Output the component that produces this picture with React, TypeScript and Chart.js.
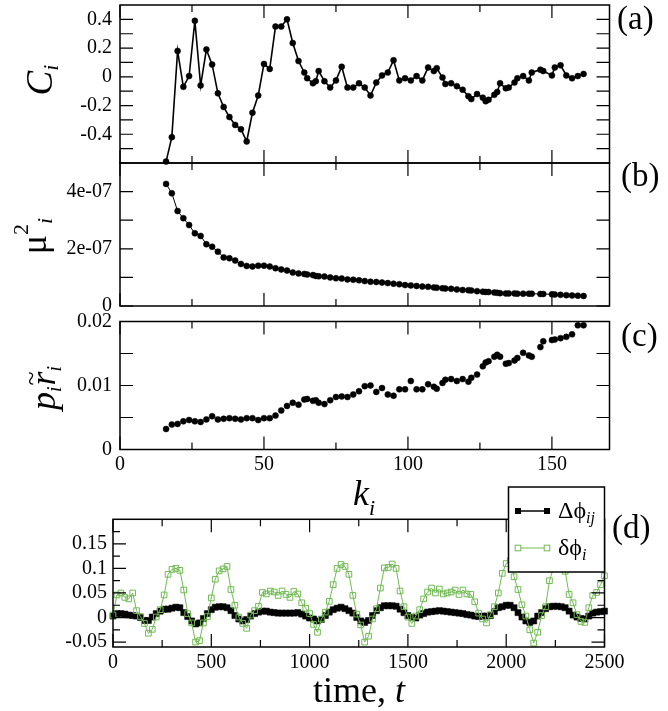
import React, { useEffect, useRef } from 'react';
import { Chart, registerables } from 'chart.js';

Chart.register(...registerables);

const SERIF = '"Liberation Serif", "Times New Roman", Times, serif';
const GREEN = 'rgb(112, 186, 82)';

// panels (a)-(c): node degree k_i
const degree = [
  16, 18, 20, 22, 24, 26, 28, 30, 32, 34, 36, 38, 40, 42, 44, 46, 48, 50, 52, 54,
  56, 58, 60, 62, 64, 65, 67, 68, 69, 71, 73, 75, 77, 79, 81, 83, 85, 87, 89, 91,
  93, 95, 97, 99, 101, 103, 105, 107, 109, 110, 112, 113, 115, 117, 119, 121, 122, 124, 126, 127,
  128, 130, 131, 132, 134, 135, 137, 138, 140, 142, 143, 146, 147, 150, 151, 153, 155, 157, 159, 161
];

const clustering = [
  -0.59, -0.42, 0.18, -0.07, 0.005, 0.39, -0.06, 0.19, 0.085, -0.115, -0.21, -0.28, -0.335, -0.365, -0.45, -0.25, -0.13, 0.09, 0.055, 0.35,
  0.35, 0.4, 0.235, 0.11, 0.03, -0.01, -0.045, -0.03, 0.04, -0.03, -0.075, -0.025, 0.07, -0.075, -0.075, -0.045, -0.075, -0.13, -0.04, 0.01,
  0.03, 0.115, -0.025, -0.01, -0.025, 0.005, -0.025, 0.065, 0.04, 0.06, -0.005, -0.05, -0.045, -0.065, -0.09, -0.135, -0.155, -0.12, -0.145, -0.17,
  -0.16, -0.125, -0.105, -0.045, -0.08, -0.075, -0.04, -0.01, 0.005, -0.025, 0.03, 0.05, 0.04, 0.01, 0.065, 0.08, 0.01, -0.01, 0.005, 0.02
];

const muSquared = [
  4.27e-7, 3.94e-7, 3.32e-7, 3.07e-7, 2.83e-7, 2.54e-7, 2.45e-7, 2.16e-7, 2.07e-7, 1.9e-7, 1.7e-7, 1.67e-7, 1.59e-7, 1.47e-7, 1.4e-7, 1.38e-7, 1.41e-7, 1.41e-7, 1.38e-7, 1.32e-7,
  1.28e-7, 1.24e-7, 1.17e-7, 1.14e-7, 1.12e-7, 1.1e-7, 1.08e-7, 1.05e-7, 1.04e-7, 1.03e-7, 1.0e-7, 0.97e-7, 0.96e-7, 0.93e-7, 0.92e-7, 0.9e-7, 0.87e-7, 0.85e-7, 0.84e-7, 0.82e-7,
  0.8e-7, 0.78e-7, 0.76e-7, 0.73e-7, 0.72e-7, 0.7e-7, 0.68e-7, 0.67e-7, 0.65e-7, 0.64e-7, 0.62e-7, 0.61e-7, 0.6e-7, 0.58e-7, 0.56e-7, 0.55e-7, 0.54e-7, 0.52e-7, 0.5e-7, 0.49e-7,
  0.49e-7, 0.47e-7, 0.46e-7, 0.45e-7, 0.44e-7, 0.44e-7, 0.44e-7, 0.43e-7, 0.43e-7, 0.43e-7, 0.43e-7, 0.42e-7, 0.42e-7, 0.41e-7, 0.4e-7, 0.39e-7, 0.38e-7, 0.37e-7, 0.36e-7, 0.35e-7
];

const prTilde = [
  0.0032, 0.0039, 0.004, 0.0044, 0.0046, 0.0044, 0.0043, 0.0047, 0.0052, 0.0047, 0.0048, 0.0049, 0.0048, 0.0047, 0.0049, 0.0049, 0.0046, 0.0049, 0.0049, 0.0053,
  0.0061, 0.0068, 0.0073, 0.007, 0.0078, 0.0079, 0.0076, 0.0077, 0.0073, 0.0071, 0.0077, 0.0082, 0.0083, 0.0082, 0.0086, 0.0091, 0.0099, 0.01, 0.009, 0.0096,
  0.0086, 0.0084, 0.0094, 0.0094, 0.0107, 0.0094, 0.0094, 0.0102, 0.0098, 0.0095, 0.0104, 0.0109, 0.011, 0.0107, 0.011, 0.0106, 0.0112, 0.0117, 0.013, 0.0136,
  0.0138, 0.0145, 0.0148, 0.0145, 0.0134, 0.0135, 0.0139, 0.0143, 0.0151, 0.0147, 0.0145, 0.016, 0.0169, 0.0171, 0.0172, 0.0174, 0.0176, 0.018, 0.0194, 0.0194
];

// panel (d): time series
const time = [
  0, 20, 40, 60, 80, 100, 120, 140, 160, 180,
  200, 220, 240, 260, 280, 300, 320, 340, 360, 380,
  400, 420, 440, 460, 480, 500, 520, 540, 560, 580,
  600, 620, 640, 660, 680, 700, 720, 740, 760, 780,
  800, 820, 840, 860, 880, 900, 920, 940, 960, 980,
  1000, 1020, 1040, 1060, 1080, 1100, 1120, 1140, 1160, 1180,
  1200, 1220, 1240, 1260, 1280, 1300, 1320, 1340, 1360, 1380,
  1400, 1420, 1440, 1460, 1480, 1500, 1520, 1540, 1560, 1580,
  1600, 1620, 1640, 1660, 1680, 1700, 1720, 1740, 1760, 1780,
  1800, 1820, 1840, 1860, 1880, 1900, 1920, 1940, 1960, 1980,
  2000, 2020, 2040, 2060, 2080, 2100, 2120, 2140, 2160, 2180,
  2200, 2220, 2240, 2260, 2280, 2300, 2320, 2340, 2360, 2380,
  2400, 2420, 2440, 2460, 2480, 2500
];

const deltaPhiIJ = [
  0.003, 0.008, 0.008, 0.007, 0.005, 0.004, 0.003, 0.0, -0.006, -0.006,
  0.001, 0.008, 0.013, 0.017, 0.017, 0.019, 0.021, 0.02, 0.01, 0.002,
  -0.007, -0.013, -0.011, -0.002, 0.008, 0.016, 0.021, 0.022, 0.022, 0.02,
  0.014, 0.004, -0.003, -0.007, -0.004, 0.003, 0.008, 0.011, 0.013, 0.013,
  0.011, 0.01, 0.009, 0.009, 0.009, 0.009, 0.009, 0.01, 0.007, 0.003,
  -0.001, -0.003, -0.007, -0.004, 0.004, 0.011, 0.016, 0.019, 0.021, 0.018,
  0.014, 0.009, 0.0, -0.007, -0.01, -0.006, 0.004, 0.014, 0.02, 0.024,
  0.024, 0.024, 0.023, 0.017, 0.01, 0.004, 0.0, -0.001, 0.005, 0.008,
  0.011, 0.012, 0.013, 0.014, 0.013, 0.012, 0.011, 0.01, 0.009, 0.008,
  0.006, 0.005, 0.003, 0.002, 0.003, 0.003, 0.004, 0.012, 0.02, 0.022,
  0.025, 0.025, 0.02, 0.01, 0.001, -0.007, -0.01, -0.007, 0.003, 0.01,
  0.018, 0.022, 0.023, 0.023, 0.022, 0.02, 0.013, 0.005, 0.001, -0.002,
  -0.003, 0.003, 0.009, 0.011, 0.012, 0.013
];

const deltaPhiI = [
  0.005, 0.046, 0.05, 0.041, 0.038, 0.05, 0.014, 0.002, -0.012, -0.032,
  -0.024, 0.001, 0.016, 0.046, 0.088, 0.098, 0.1, 0.096, 0.056, 0.008,
  -0.011, -0.05, -0.047, -0.011, 0.002, 0.04, 0.078, 0.095, 0.099, 0.104,
  0.057, 0.025, 0.001, -0.012, -0.022, 0.005, 0.014, 0.023, 0.051, 0.048,
  0.054, 0.052, 0.045, 0.054, 0.047, 0.041, 0.053, 0.048, 0.03, 0.019,
  0.008, -0.014, -0.03, -0.003, 0.011, 0.033, 0.067, 0.1, 0.108, 0.104,
  0.088, 0.045, 0.007, -0.015, -0.05, -0.038, -0.003, 0.018, 0.06, 0.101,
  0.102, 0.109, 0.1, 0.054, 0.022, 0.001, -0.012, 0.003, 0.016, 0.038,
  0.052, 0.06, 0.05, 0.058, 0.048, 0.05, 0.052, 0.056, 0.047, 0.056,
  0.048, 0.047, 0.032, 0.009, -0.003, -0.011, 0.006, 0.022, 0.05, 0.09,
  0.11, 0.116, 0.083, 0.057, 0.026, 0.003, -0.025, -0.052, -0.03, 0.004,
  0.022, 0.075, 0.1, 0.112, 0.108, 0.094, 0.047, 0.03, 0.006, -0.008,
  -0.01, 0.02, 0.045, 0.051, 0.067, 0.085
];

// tick values and labels
const degreeTicks = [0, 50, 100, 150];
const degreeTickLabels = ['0', '50', '100', '150'];
const degreeMinor = [25, 75, 125];
const clusterTicks = [-0.4, -0.2, 0, 0.2, 0.4];
const clusterTickLabels = ['-0.4', '-0.2', '0', '0.2', '0.4'];
const clusterMinor = [-0.5, -0.3, -0.1, 0.1, 0.3];
const muTicks = [0, 2e-7, 4e-7];
const muTickLabels = ['0', '2e-07', '4e-07'];
const muMinor = [1e-7, 3e-7];
const prTicks = [0, 0.01, 0.02];
const prTickLabels = ['0', '0.01', '0.02'];
const prMinor = [0.005, 0.015];
const timeTicks = [0, 500, 1000, 1500, 2000, 2500];
const timeTickLabels = ['0', '500', '1000', '1500', '2000', '2500'];
const timeMinor = [250, 750, 1250, 1750, 2250];
const phaseTicks = [-0.05, 0, 0.05, 0.1, 0.15];
const phaseTickLabels = ['-0.05', '0', '0.05', '0.1', '0.15'];
const phaseMinor = [-0.025, 0.025, 0.075, 0.125, 0.175];

type Seg = { t: string; size: number; italic?: boolean; dy?: number; dx?: number; over?: boolean };

const seriesNames: Seg[][] = [
  [{ t: 'Δϕ', size: 24 }, { t: 'ij', size: 16, italic: true, dy: 5 }],
  [{ t: 'δϕ', size: 24 }, { t: 'i', size: 16, italic: true, dy: 5 }]
];

interface PanelSpec {
  id: string;
  top: number;
  height: number;
  padding: { left: number; right: number; top: number; bottom: number };
  yWidth: number;
  yPad: number;
  yMin: number;
  yMax: number;
  yTicks: number[];
  yLabels: string[];
  yMinor: number[];
  yMinorLen: number;
  xMin: number;
  xMax: number;
  xTicks: number[];
  xLabels: string[];
  xMinor: number[];
  xShow: boolean;
  xHeight?: number;
  xPad?: number;
  datasets: any[];
  tag: { text: string; x: number; y: number };
  yTitle: { segs: Seg[]; x: number; y: number };
  xTitle?: { segs: Seg[]; x: number; y: number };
  legend?: boolean;
}

const segFont = (s: Seg) => `${s.italic ? 'italic ' : ''}${s.size}px ${SERIF}`;

function drawRich(ctx: CanvasRenderingContext2D, segs: Seg[], x: number, y: number, center: boolean) {
  let total = 0;
  segs.forEach((s) => {
    if (s.over) return;
    ctx.font = segFont(s);
    total += ctx.measureText(s.t).width + (s.dx || 0);
  });
  let cx = center ? x - total / 2 : x;
  let prevX = cx;
  let prevW = 0;
  ctx.textAlign = 'left';
  ctx.textBaseline = 'alphabetic';
  for (const s of segs) {
    ctx.font = segFont(s);
    const w = ctx.measureText(s.t).width;
    if (s.over) {
      ctx.fillText(s.t, prevX + (prevW - w) / 2, y + (s.dy || 0));
      continue;
    }
    cx += s.dx || 0;
    ctx.fillText(s.t, cx, y + (s.dy || 0));
    prevX = cx;
    prevW = w;
    cx += w;
  }
}

function makeFrame(spec: PanelSpec) {
  return {
    id: 'frame_' + spec.id,
    afterDraw(chart: any) {
      const ctx: CanvasRenderingContext2D = chart.ctx;
      const { left, right, top, bottom } = chart.chartArea;
      const xs = chart.scales.x;
      const ys = chart.scales.y;
      const off = spec.top;
      ctx.save();
      ctx.strokeStyle = '#000';
      ctx.fillStyle = '#000';

      // inward ticks on all four sides
      ctx.lineWidth = 1.2;
      ctx.beginPath();
      const xTick = (vals: number[], len: number) => vals.forEach((v) => {
        const p = xs.getPixelForValue(v);
        ctx.moveTo(p, bottom); ctx.lineTo(p, bottom - len);
        ctx.moveTo(p, top); ctx.lineTo(p, top + len);
      });
      const yTick = (vals: number[], len: number) => vals.forEach((v) => {
        const p = ys.getPixelForValue(v);
        ctx.moveTo(left, p); ctx.lineTo(left + len, p);
        ctx.moveTo(right, p); ctx.lineTo(right - len, p);
      });
      xTick(spec.xTicks, 13);
      xTick(spec.xMinor, 7);
      yTick(spec.yTicks, 13);
      yTick(spec.yMinor, spec.yMinorLen);
      ctx.stroke();

      ctx.lineWidth = 1.5;
      ctx.strokeRect(left, top, right - left, bottom - top);

      // panel tag
      ctx.font = `33px ${SERIF}`;
      ctx.textAlign = 'left';
      ctx.textBaseline = 'alphabetic';
      ctx.fillText(spec.tag.text, spec.tag.x, spec.tag.y - off);

      // rotated y title
      ctx.save();
      ctx.translate(spec.yTitle.x, spec.yTitle.y - off);
      ctx.rotate(-Math.PI / 2);
      drawRich(ctx, spec.yTitle.segs, 0, 0, true);
      ctx.restore();

      if (spec.xTitle) {
        drawRich(ctx, spec.xTitle.segs, spec.xTitle.x, spec.xTitle.y - off, true);
      }

      if (spec.legend) {
        const bx = 508.5;
        const by = 487 - off;
        ctx.fillStyle = '#fff';
        ctx.fillRect(bx, by, 96, 85);
        ctx.strokeStyle = '#000';
        ctx.lineWidth = 1.5;
        ctx.strokeRect(bx, by, 96, 85);
        const rows = [511, 548];
        const colors = ['#000', GREEN];
        seriesNames.forEach((segs, i) => {
          const ly = rows[i] - off;
          ctx.strokeStyle = colors[i];
          ctx.lineWidth = i === 0 ? 1.5 : 1;
          ctx.beginPath();
          ctx.moveTo(518, ly);
          ctx.lineTo(547, ly);
          ctx.stroke();
          [518, 547].forEach((mx) => {
            if (i === 0) {
              ctx.fillStyle = '#000';
              ctx.fillRect(mx - 3, ly - 3, 6, 6);
            } else {
              ctx.fillStyle = '#fff';
              ctx.fillRect(mx - 2.8, ly - 2.8, 5.6, 5.6);
              ctx.lineWidth = 1;
              ctx.strokeRect(mx - 2.8, ly - 2.8, 5.6, 5.6);
            }
          });
          ctx.fillStyle = '#000';
          drawRich(ctx, segs, 558, ly + 7, false);
        });
      }
      ctx.restore();
    }
  };
}

function buildConfig(spec: PanelSpec): any {
  const tickFont = { family: SERIF, size: 20 };
  const zeroPad = (s: any) => {
    s.paddingLeft = 0;
    s.paddingRight = 0;
    s.paddingTop = 0;
    s.paddingBottom = 0;
  };
  return {
    type: 'scatter',
    data: { datasets: spec.datasets },
    options: {
      animation: false,
      responsive: true,
      maintainAspectRatio: false,
      events: [],
      layout: { padding: spec.padding },
      plugins: { legend: { display: false }, tooltip: { enabled: false } },
      scales: {
        x: {
          type: 'linear',
          bounds: 'data',
          min: spec.xMin,
          max: spec.xMax,
          display: spec.xShow,
          grid: { display: false, drawTicks: false, tickLength: 0 },
          border: { display: false },
          ticks: {
            padding: spec.xPad || 0,
            font: tickFont,
            color: '#000',
            autoSkip: false,
            maxRotation: 0,
            minRotation: 0,
            callback: (_v: any, i: number) => spec.xLabels[i]
          },
          afterBuildTicks: (s: any) => {
            s.ticks = spec.xTicks.map((v) => ({ value: v }));
          },
          afterFit: (s: any) => {
            if (spec.xShow && spec.xHeight) s.height = spec.xHeight;
            zeroPad(s);
          }
        },
        y: {
          type: 'linear',
          bounds: 'data',
          min: spec.yMin,
          max: spec.yMax,
          grid: { display: false, drawTicks: false, tickLength: 0 },
          border: { display: false },
          ticks: {
            padding: spec.yPad,
            font: tickFont,
            color: '#000',
            autoSkip: false,
            callback: (_v: any, i: number) => spec.yLabels[i]
          },
          afterBuildTicks: (s: any) => {
            s.ticks = spec.yTicks.map((v) => ({ value: v }));
          },
          afterFit: (s: any) => {
            s.width = spec.yWidth;
            zeroPad(s);
          }
        }
      }
    },
    plugins: [makeFrame(spec)]
  };
}

const dotSet = (ys: number[], lineWidth: number, showLine: boolean) => ({
  data: degree.map((k, i) => ({ x: k, y: ys[i] })),
  showLine,
  borderColor: '#000',
  borderWidth: lineWidth,
  pointRadius: 3,
  pointBorderWidth: 0.5,
  pointBackgroundColor: '#000',
  pointBorderColor: '#000',
  clip: false
});

const panels: PanelSpec[] = [
  {
    id: 'a',
    top: 0,
    height: 172,
    padding: { left: 0, right: 58.5, top: 5, bottom: 9 },
    yWidth: 120,
    yPad: 8,
    yMin: -0.6,
    yMax: 0.5,
    yTicks: clusterTicks,
    yLabels: clusterTickLabels,
    yMinor: clusterMinor,
    yMinorLen: 13,
    xMin: 0,
    xMax: 170,
    xTicks: degreeTicks,
    xLabels: degreeTickLabels,
    xMinor: degreeMinor,
    xShow: false,
    datasets: [dotSet(clustering, 1.6, true)],
    tag: { text: '(a)', x: 617, y: 29 },
    yTitle: {
      segs: [{ t: 'C', size: 37, italic: true }, { t: 'i', size: 22, italic: true, dy: 6 }],
      x: 52,
      y: 80
    }
  },
  {
    id: 'b',
    top: 150,
    height: 166,
    padding: { left: 0, right: 58.5, top: 13, bottom: 10 },
    yWidth: 120,
    yPad: 8,
    yMin: 0,
    yMax: 5e-7,
    yTicks: muTicks,
    yLabels: muTickLabels,
    yMinor: muMinor,
    yMinorLen: 13,
    xMin: 0,
    xMax: 170,
    xTicks: degreeTicks,
    xLabels: degreeTickLabels,
    xMinor: degreeMinor,
    xShow: false,
    datasets: [dotSet(muSquared, 1, true)],
    tag: { text: '(b)', x: 621, y: 186 },
    yTitle: {
      segs: [
        { t: 'μ', size: 36 },
        { t: '2', size: 22, dy: -18 },
        { t: 'i', size: 22, italic: true, dy: 6 }
      ],
      x: 46,
      y: 236
    }
  },
  {
    id: 'c',
    top: 300,
    height: 225,
    padding: { left: 0, right: 58.5, top: 21.5, bottom: 0 },
    yWidth: 120,
    yPad: 8,
    yMin: 0,
    yMax: 0.02,
    yTicks: prTicks,
    yLabels: prTickLabels,
    yMinor: prMinor,
    yMinorLen: 13,
    xMin: 0,
    xMax: 170,
    xTicks: degreeTicks,
    xLabels: degreeTickLabels,
    xMinor: degreeMinor,
    xShow: true,
    xHeight: 75.5,
    xPad: 3,
    datasets: [dotSet(prTilde, 1, false)],
    tag: { text: '(c)', x: 621, y: 346 },
    yTitle: {
      segs: [
        { t: 'p', size: 36, italic: true },
        { t: 'i', size: 20, italic: true, dy: 6 },
        { t: 'r', size: 36, italic: true, dx: 1 },
        { t: '~', size: 26, over: true, dy: -16 },
        { t: 'i', size: 20, italic: true, dy: 6 }
      ],
      x: 55,
      y: 388
    },
    xTitle: {
      segs: [{ t: 'k', size: 36, italic: true }, { t: 'i', size: 22, italic: true, dy: 10 }],
      x: 364,
      y: 505
    }
  },
  {
    id: 'd',
    top: 470,
    height: 241,
    padding: { left: 0, right: 63.5, top: 49.3, bottom: 0 },
    yWidth: 113,
    yPad: 6,
    yMin: -0.06,
    yMax: 0.2,
    yTicks: phaseTicks,
    yLabels: phaseTickLabels,
    yMinor: phaseMinor,
    yMinorLen: 7,
    xMin: 0,
    xMax: 2500,
    xTicks: timeTicks,
    xLabels: timeTickLabels,
    xMinor: timeMinor,
    xShow: true,
    xHeight: 64,
    xPad: 4,
    datasets: [
      {
        data: time.map((t, i) => ({ x: t, y: deltaPhiI[i] })),
        showLine: true,
        borderColor: GREEN,
        borderWidth: 1,
        pointStyle: 'rect',
        pointRadius: 4,
        pointBorderWidth: 1,
        pointBorderColor: GREEN,
        pointBackgroundColor: 'rgba(0,0,0,0)',
        order: 0,
        clip: false
      },
      {
        data: time.map((t, i) => ({ x: t, y: deltaPhiIJ[i] })),
        showLine: true,
        borderColor: '#000',
        borderWidth: 1.5,
        pointStyle: 'rect',
        pointRadius: 4.3,
        pointBorderWidth: 0.5,
        pointBorderColor: '#000',
        pointBackgroundColor: '#000',
        order: 1,
        clip: false
      }
    ],
    tag: { text: '(d)', x: 612, y: 538 },
    yTitle: { segs: [], x: 0, y: 0 },
    xTitle: {
      segs: [{ t: 'time, ', size: 36 }, { t: 't', size: 36, italic: true }],
      x: 359,
      y: 702
    },
    legend: true
  }
];

function Panel({ spec }: { spec: PanelSpec }) {
  const canvasRef = useRef<HTMLCanvasElement>(null);

  useEffect(() => {
    if (!canvasRef.current) return;
    const chart = new Chart(canvasRef.current, buildConfig(spec));
    return () => {
      chart.destroy();
    };
  }, [spec]);

  return (
    <div style={{ position: 'absolute', left: 0, top: spec.top, width: 668, height: spec.height }}>
      <canvas ref={canvasRef} />
    </div>
  );
}

export default function App() {
  return (
    <div style={{ position: 'absolute', left: 0, top: 0, width: 668, height: 711, background: '#fff', overflow: 'hidden' }}>
      {panels.map((p) => (
        <Panel key={p.id} spec={p} />
      ))}
    </div>
  );
}
